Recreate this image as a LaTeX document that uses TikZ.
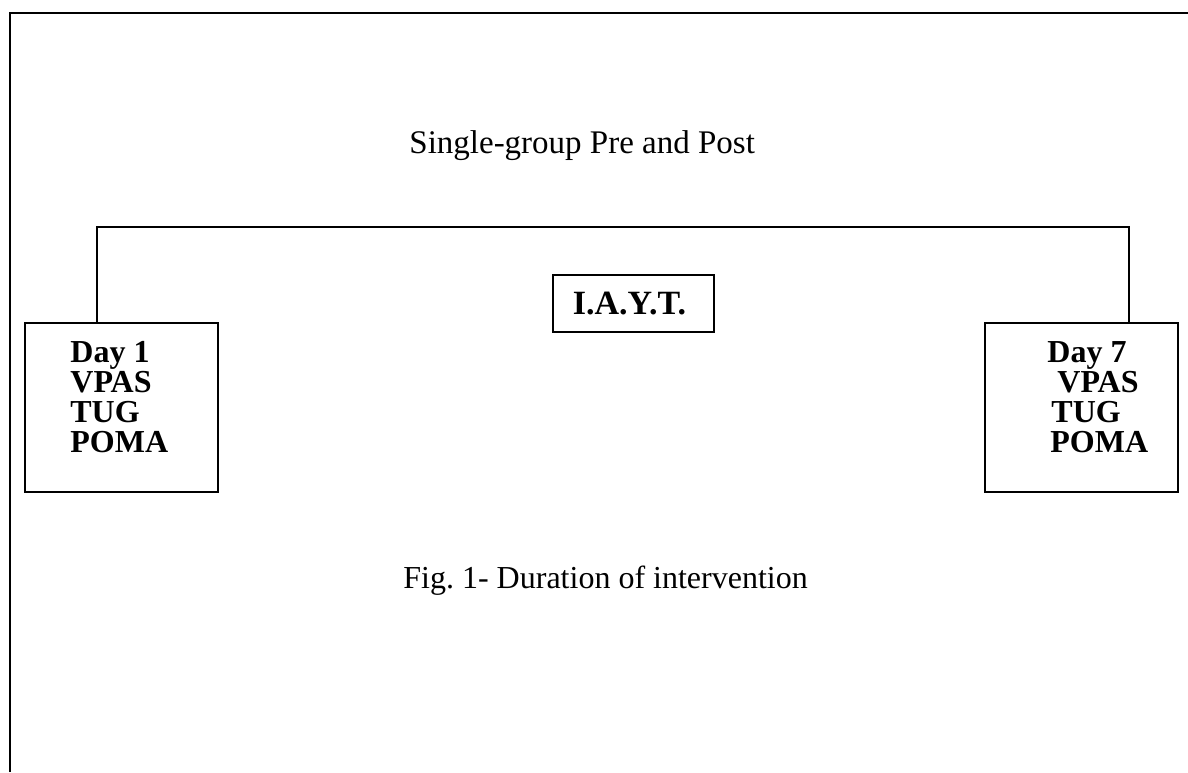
\documentclass[tikz,border=0pt]{standalone}
\usepackage{fontspec}
\setmainfont{Liberation Serif}
\usetikzlibrary{positioning}
\frenchspacing

\tikzset{
  stage/.style={draw, line width=0.6pt, minimum width=96.5pt, minimum height=84.5pt, inner sep=0pt},
  stagetext/.style={align=left, inner sep=0pt, font=\fontsize{16}{15}\selectfont\bfseries},
  yogabox/.style={draw, line width=0.6pt, minimum width=80.5pt, minimum height=28.5pt, inner sep=0pt, font=\fontsize{17}{15}\selectfont\bfseries},
  plaintext/.style={inner sep=0pt, font=\fontsize{16.5}{18}\selectfont}
}

\begin{document}
\begin{tikzpicture}[x=0.5pt, y=-0.5pt]
  \useasboundingbox (0,0) rectangle (1188,772);
  %Frame
  \draw[line width=1pt] (10,772) -- (10,13) -- (1188,13);
  %Title and caption
  \node[plaintext, anchor=base west] (title) at (409,153) {Single-group Pre and Post};
  \node[plaintext, anchor=base west, font=\fontsize{16}{18}\selectfont] (caption) at (403,588) {Fig. 1- Duration of intervention};
  %Boxes
  \node[stage] (pre) at (121.5,407.5) {};
  \node[stage] (post) at (1081.5,407.5) {};
  \node[yogabox] (iayt) at (633.5,303.5) {\kern-4pt I.A.Y.T.};
  \node[stagetext, anchor=north west] (pretext) at (70,341) {Day 1\\VPAS\\TUG\\POMA};
  \node[stagetext, anchor=north west] (posttext) at (1047,341)
    {Day 7\\\hspace*{5pt}VPAS\\\hspace*{2pt}TUG\\\hspace*{1.5pt}POMA};
  %Connector
  \coordinate (ltop) at (97,227);
  \coordinate (rtop) at (1129,227);
  \draw[line width=0.6pt] (pre.north -| ltop) -- (ltop) -- (rtop) -- (post.north -| rtop);
\end{tikzpicture}
\end{document}
